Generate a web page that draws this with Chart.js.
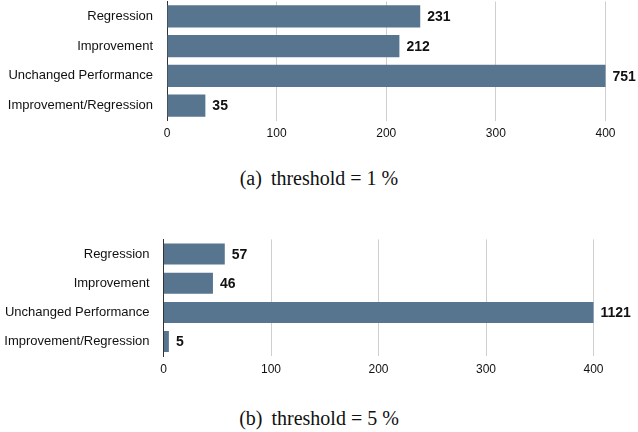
<!DOCTYPE html>
<html>
<head>
<meta charset="utf-8">
<script src="https://cdn.jsdelivr.net/npm/chart.js@4/dist/chart.umd.min.js"></script>
<style>
  body { margin: 0; background: #fff; width: 638px; height: 432px; position: relative; overflow: hidden; }
  .box { position: absolute; left: 0; width: 638px; height: 150px; }
  .cap { position: absolute; left: 0; width: 638px; text-align: center; font-family: "Liberation Serif", serif; font-size: 20px; color: #111; }
  .cap span { margin-right: 9px; }
</style>
</head>
<body>
<div class="box" style="top:0px"><canvas id="chartA"></canvas></div>
<div class="cap" style="top:167px"><span>(a)</span>threshold = 1 %</div>
<div class="box" style="top:230px"><canvas id="chartB"></canvas></div>
<div class="cap" style="top:407px"><span>(b)</span>threshold = 5 %</div>
<script>
const categories = ['Regression', 'Improvement', 'Unchanged Performance', 'Improvement/Regression'];
const counts1 = [231, 212, 751, 35];
const counts5 = [57, 46, 1121, 5];
const xMax = 400;
const barColor = '#57758f';

// count written just after the bar end (bars past 400 are cut at the edge)
const valueLabels = {
  id: 'valueLabels',
  afterDatasetsDraw(chart) {
    const ctx = chart.ctx;
    const area = chart.chartArea;
    const data = chart.data.datasets[0].data;
    ctx.save();
    ctx.font = 'bold 14px "Liberation Sans", Arial, sans-serif';
    ctx.fillStyle = '#111';
    ctx.textBaseline = 'middle';
    chart.getDatasetMeta(0).data.forEach((bar, i) => {
      let x = Math.min(bar.x, area.right);
      ctx.fillText(data[i], x + 7, bar.y + 1);
    });
    ctx.restore();
  }
};

function makeChart(id, values, axisWidth, pad) {
  let ctx = document.getElementById(id).getContext('2d');
  return new Chart(ctx, {
    type: 'bar',
    data: {
      labels: categories,
      datasets: [{
        data: values,
        backgroundColor: barColor,
        categoryPercentage: 1,
        barPercentage: pad.bar
      }]
    },
    options: {
      indexAxis: 'y',
      responsive: false,
      animation: false,
      layout: { padding: { top: pad.top, right: pad.right, bottom: 0, left: 0 } },
      plugins: { legend: { display: false }, tooltip: { enabled: false } },
      scales: {
        x: {
          min: 0,
          max: xMax,
          ticks: { stepSize: 100, padding: 6, color: '#111', font: { family: '"Liberation Sans", Arial', size: 12 } },
          grid: {
            drawTicks: false,
            color: (c) => c.tick && c.tick.value === 0 ? 'rgba(0,0,0,0)' : '#cfcfcf'
          },
          border: { display: false },
          afterFit: (scale) => { scale.height = 150 - pad.bottom; }
        },
        y: {
          ticks: { padding: 14, color: '#111', font: { family: '"Liberation Sans", Arial', size: 13 } },
          grid: { display: false, drawTicks: false },
          border: { display: true, color: '#333', width: 1 },
          afterFit: (scale) => {
            scale.width = axisWidth;
            scale.paddingTop = 0;
            scale.paddingBottom = 0;
          }
        }
      }
    },
    plugins: [valueLabels]
  });
}

for (const id of ['chartA', 'chartB']) {
  const c = document.getElementById(id);
  c.width = 638; c.height = 150;
}

makeChart('chartA', counts1, 167, { top: 1.5, right: 32.5, bottom: 120.5, bar: 0.74 });
makeChart('chartB', counts5, 163.5, { top: 9.4, right: 44.5, bottom: 126.2, bar: 0.72 });
</script>
</body>
</html>
